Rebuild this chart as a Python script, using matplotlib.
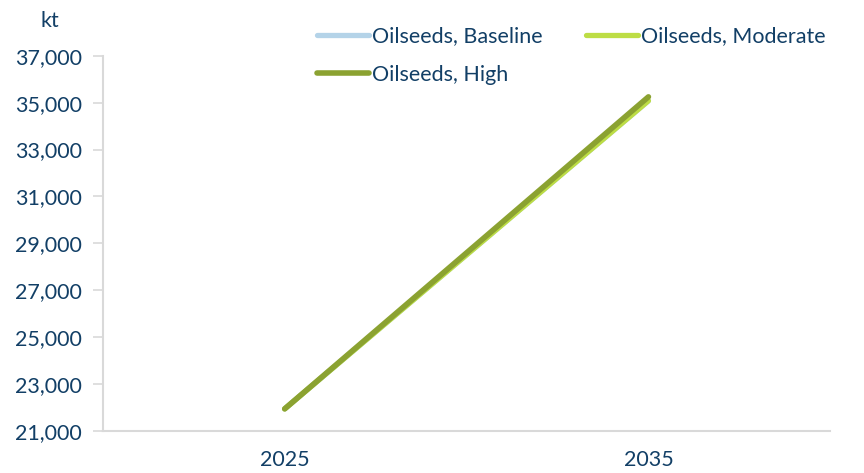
"""Oilseeds production scenarios, 2025 vs 2035 (kt)."""

import matplotlib

matplotlib.use("Agg")
import matplotlib.pyplot as plt
from matplotlib.ticker import FuncFormatter

years = ["2025", "2035"]
baseline = [21940, 35080]
moderate = [21940, 35080]
high = [21940, 35250]
y_ticks = [21000, 23000, 25000, 27000, 29000, 31000, 33000, 35000, 37000]

TEXT = "#123F66"
AXIS = "#D9D9D9"
FS = 15.5

plt.rcParams["font.family"] = ["Lato", "DejaVu Sans"]

fig = plt.figure(figsize=(8.64, 4.73), dpi=100)
ax = fig.add_axes([0.119, 0.089, 0.842, 0.793])

x = range(len(years))
l_base, = ax.plot(x, baseline, color="#B4D3E8", lw=3.8, solid_capstyle="round", label="Oilseeds, Baseline")
l_mod, = ax.plot(x, moderate, color="#BDDD45", lw=3.8, solid_capstyle="round", label="Oilseeds, Moderate")
l_high, = ax.plot(x, high, color="#8BA231", lw=4.0, solid_capstyle="round", label="Oilseeds, High")

ax.set_xlim(-0.5, 1.5)
ax.set_ylim(y_ticks[0], y_ticks[-1])
ax.set_xticks(list(x))
ax.set_xticklabels(years)
ax.set_yticks(y_ticks)
ax.yaxis.set_major_formatter(FuncFormatter(lambda v, _: f"{v:,.0f}"))

for side in ("top", "right"):
    ax.spines[side].set_visible(False)
for side in ("left", "bottom"):
    ax.spines[side].set_color(AXIS)
    ax.spines[side].set_linewidth(1.5)

ax.tick_params(axis="y", colors=AXIS, length=7, width=1.2, pad=8, labelcolor=TEXT, labelsize=FS)
ax.tick_params(axis="x", length=0, pad=14, labelcolor=TEXT, labelsize=FS)

fig.text(0.058, 0.955, "kt", color=TEXT, fontsize=FS, ha="center", va="center")

# legend fills column-first, so order handles to get Baseline/Moderate on the first row
handles = [l_base, l_high, l_mod]
leg = fig.legend(
    handles,
    [h.get_label() for h in handles],
    loc="upper left",
    bbox_to_anchor=(0.345, 0.985),
    ncol=2,
    frameon=False,
    fontsize=FS,
    handlelength=2.4,
    handletextpad=0.15,
    columnspacing=2.0,
    labelspacing=0.85,
)
for t in leg.get_texts():
    t.set_color(TEXT)

fig.savefig("out.png", dpi=100)
